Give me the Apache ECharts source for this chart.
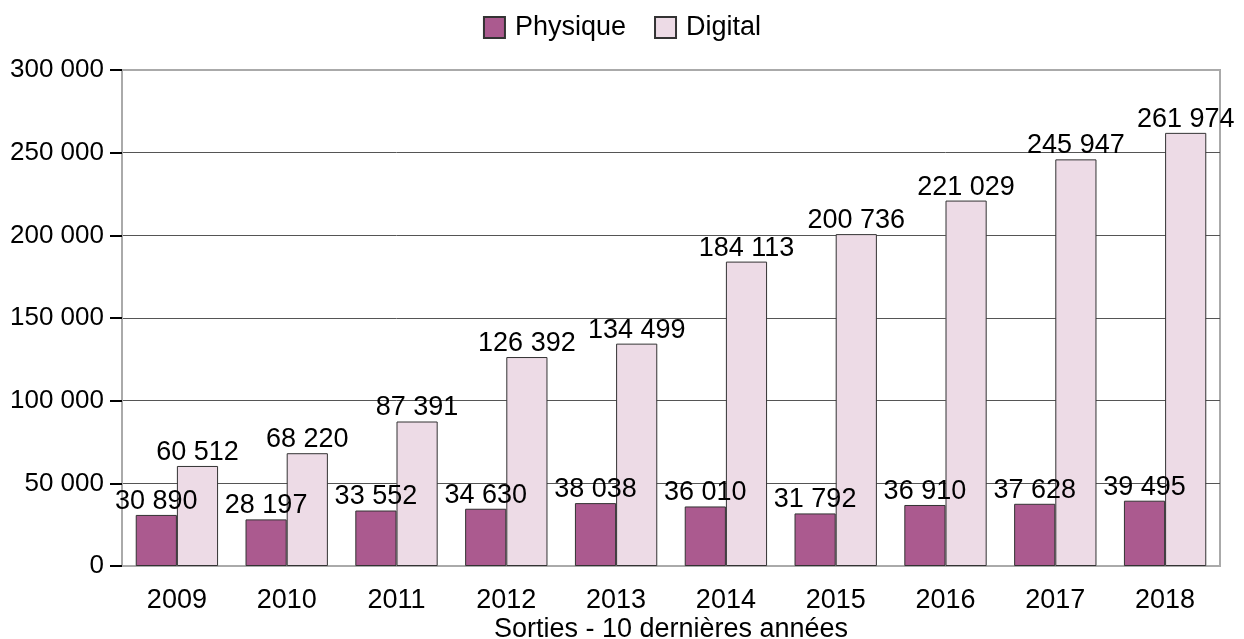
<!DOCTYPE html>
<html>
<head>
<meta charset="utf-8">
<script src="https://cdn.jsdelivr.net/npm/echarts@6/dist/echarts.min.js"></script>
<style>
  html, body { margin: 0; padding: 0; background: #fff; }
  #chart { width: 1244px; height: 639px; }
</style>
</head>
<body>
<div id="chart"></div>
<script>
const years = ['2009', '2010', '2011', '2012', '2013', '2014', '2015', '2016', '2017', '2018']
const physique = [30890, 28197, 33552, 34630, 38038, 36010, 31792, 36910, 37628, 39495]
const digital = [60512, 68220, 87391, 126392, 134499, 184113, 200736, 221029, 245947, 261974]

// 12345 -> "12 345"
function fmt(v) {
  return String(v).replace(/\B(?=(\d{3})+(?!\d))/g, ' ')
}

const chart = echarts.init(document.getElementById('chart'))
const font = 'Liberation Sans, Arial, sans-serif'

const barLabel = {
  show: true,
  position: 'top',
  distance: 0,
  color: '#000',
  fontSize: 27,
  fontFamily: font,
  formatter: p => fmt(p.value)
}

const option = {
  animation: false,
  textStyle: { fontFamily: font },
  legend: {
    top: 9,
    left: 'center',
    icon: 'rect',
    itemWidth: 21,
    itemHeight: 21,
    itemGap: 28,
    textStyle: { fontSize: 27, color: '#000', fontFamily: font, padding: [0, 0, 0, 5] },
    data: ['Physique', 'Digital']
  },
  grid: {
    left: 122,
    right: 24,
    top: 70,
    bottom: 73,
    outerBoundsMode: 'none',
    containLabel: false,
    show: true,
    borderColor: '#aaa',
    borderWidth: 2
  },
  xAxis: {
    type: 'category',
    data: years,
    name: 'Sorties - 10 dernières années',
    nameLocation: 'middle',
    nameGap: 50,
    nameMoveOverlap: false,
    nameTextStyle: { fontSize: 27, color: '#000', fontFamily: font },
    axisLine: { lineStyle: { color: '#aaa', width: 2 } },
    axisTick: { show: false },
    axisLabel: { fontSize: 27, color: '#000', margin: 21, fontFamily: font }
  },
  yAxis: {
    type: 'value',
    min: 0,
    max: 300000,
    interval: 50000,
    axisLine: { show: true, lineStyle: { color: '#aaa', width: 2 } },
    axisTick: { show: true, length: 12, lineStyle: { color: '#000', width: 2 } },
    axisLabel: {
      fontSize: 26,
      color: '#000',
      margin: 18,
      fontFamily: font,
      formatter: v => fmt(v)
    },
    splitLine: {
      lineStyle: {
        color: ['#aaa', '#555', '#555', '#555', '#555', '#555', '#aaa'],
        width: 1
      }
    }
  },
  series: [
    {
      name: 'Physique',
      type: 'bar',
      data: physique,
      barGap: 0,
      barCategoryGap: '25%',
      itemStyle: { color: '#ab5a8f', borderColor: '#333', borderWidth: 1 },
      label: barLabel
    },
    {
      name: 'Digital',
      type: 'bar',
      data: digital,
      barGap: 0,
      barCategoryGap: '25%',
      itemStyle: { color: '#eddbe6', borderColor: '#333', borderWidth: 1 },
      label: barLabel
    }
  ]
}

chart.setOption(option)
</script>
</body>
</html>
